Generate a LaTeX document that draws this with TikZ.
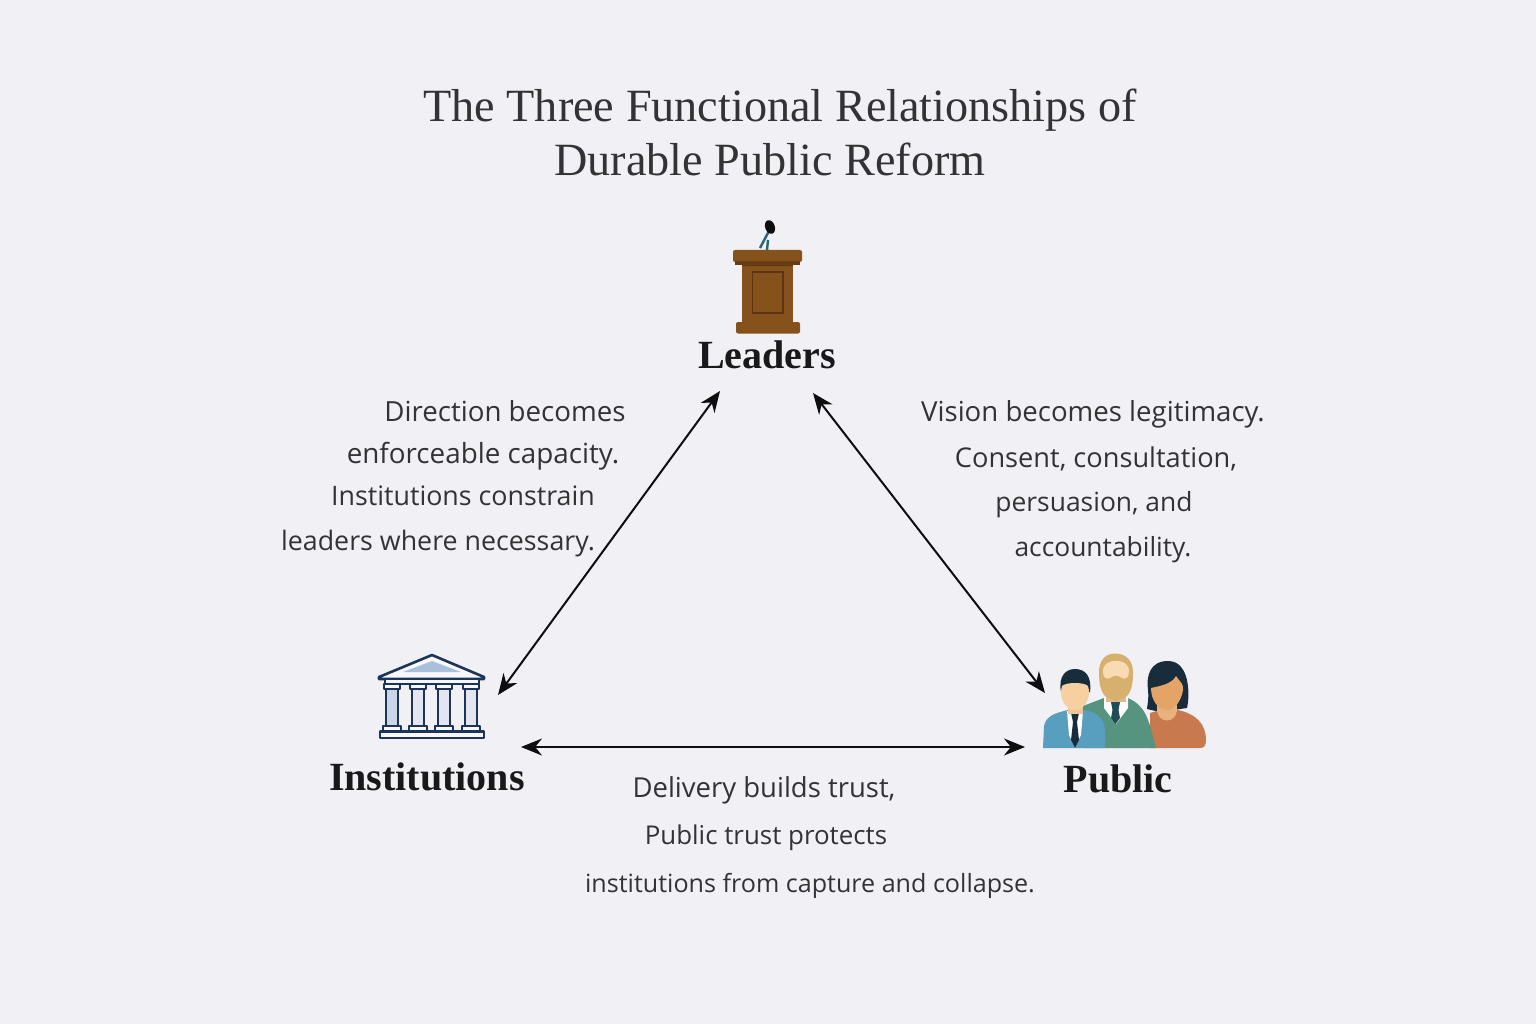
\documentclass[tikz,border=0pt]{standalone}
\usepackage{fontspec}
\setmainfont{Liberation Serif}
\newfontfamily\bodyfont{Open Sans}
\usepackage{xcolor}
\definecolor{paper}{RGB}{241,240,245}
\definecolor{ink}{RGB}{51,51,54}
\definecolor{coal}{RGB}{14,14,16}
\definecolor{navy}{RGB}{28,52,88}
\definecolor{ice}{RGB}{170,192,218}
\definecolor{wood}{RGB}{134,82,28}
\definecolor{wooddk}{RGB}{92,54,20}
\definecolor{teal}{RGB}{42,100,116}
\definecolor{suit}{RGB}{88,158,190}
\definecolor{sweater}{RGB}{86,148,128}
\definecolor{rust}{RGB}{200,122,78}
\definecolor{skin}{RGB}{246,208,160}
\definecolor{skintan}{RGB}{228,164,104}
\definecolor{beard}{RGB}{214,176,108}
\definecolor{hairdk}{RGB}{24,44,60}
\usepackage{tikz}
\usetikzlibrary{arrows.meta,positioning,calc}
\tikzset{
  %% Text
  titleline/.style={anchor=base, font=\fontsize{46.2}{50}\selectfont, text=ink, inner sep=0pt},
  rolelabel/.style={anchor=base, font=\fontsize{40}{44}\selectfont\bfseries, text=coal!70!ink, inner sep=0pt},
  noteline/.style={anchor=base, font=\bodyfont\fontsize{#1}{30}\selectfont, text=ink, inner sep=0pt},
  %% Connectors
  biarrow/.style={draw=coal, line width=2pt, {Stealth[length=21pt,width=17pt]}-{Stealth[length=21pt,width=17pt]}},
  %% Icons
  slab/.style={fill=wood, rounded corners=2pt},
  temple/.style={draw=navy, line width=2.6pt, fill=paper!50!white, line join=round},
}

\begin{document}
\begin{tikzpicture}[x=1pt,y=-1pt]
\useasboundingbox[fill=paper] (0,0) rectangle (1536,1024);

%% Title
\node[titleline] (title1) at (780,122) {The Three Functional Relationships of};
\node[titleline] (title2) at (770,176) {Durable Public Reform};

%% Vertex labels
\node[rolelabel] (leaders) at (767,368) {Leaders};
\node[rolelabel] (institutions) at (427,790) {Institutions};
\node[rolelabel] (public) at (1118,792) {Public};

%% Podium
\fill[wood] (742,262) rectangle (793,324);
\fill[wooddk] (742,262) rectangle (793,266);
\draw[wooddk, line width=1.4pt] (752.5,272) rectangle (783,313);
\fill[slab] (733,250) rectangle (802,262);
\fill[wooddk!70!wood] (735,261) rectangle (800,265);
\fill[slab] (736,322) rectangle (800,333.5);
\draw[teal, line width=2.4pt] (769,231) -- (760,248);
\draw[teal, line width=2.4pt] (768,240) -- (767,250);
\fill[coal, rotate around={20:(770,227)}] (770,227) ellipse (4.8pt and 7pt);

%% Temple
\draw[temple] (432,655) -- (484,677) -- (484,679) -- (379,679) -- (379,677) -- cycle;
\fill[ice] (432,661) -- (461,672) -- (403,672) -- cycle;
\draw[temple] (385,679) rectangle (479,684);
\foreach \colx/\shade in {392/55,418/20,444/20,471/20}{
  \draw[temple, fill=ice!\shade!paper] (\colx-6,689) rectangle (\colx+6,726);
  \draw[temple] (\colx-8,684) rectangle (\colx+8,689);
  \draw[temple] (\colx-9,726) rectangle (\colx+9,731);
}
\draw[temple] (380,731.5) rectangle (484,738);

%% Woman
\fill[hairdk] (1168,661) .. controls (1150,661) and (1146,676) .. (1148,690)
  .. controls (1149,700) and (1147,706) .. (1147,709) -- (1160,712) -- (1187,708)
  .. controls (1190,695) and (1190,661) .. (1168,661) -- cycle;
\fill[rust] (1150,748) -- (1150,713) -- (1160,710) -- (1178,710)
  .. controls (1196,714) and (1206,724) .. (1206,740)
  .. controls (1206,746) and (1204,748) .. (1200,748) -- cycle;
\fill[skintan!85!white] (1157,700) rectangle (1177,712);
\fill[skintan!85!white] (1157,710) .. controls (1158,724) and (1176,724) .. (1177,710) -- cycle;
\fill[skintan] (1151,688) .. controls (1160,686) and (1172,684) .. (1176,676)
  .. controls (1180,682) and (1184,684) .. (1183,690)
  .. controls (1181,702) and (1174,710) .. (1167,710)
  .. controls (1158,710) and (1151,700) .. (1151,688) -- cycle;

%% Bearded man
\fill[sweater] (1083,748) -- (1083,706) -- (1104,698) -- (1128,698)
  .. controls (1145,706) and (1148,716) .. (1156,748) -- cycle;
\fill[white] (1104,697) -- (1128,697) -- (1128,708) -- (1116,724) -- (1104,708) -- cycle;
\fill[teal!75!black] (1111,702) -- (1120,702) -- (1118.5,710) -- (1120,718) -- (1115.5,724) -- (1111,718) -- (1112.5,710) -- cycle;
\fill[skin!90!black] (1106,690) rectangle (1126,702);
\fill[beard] (1115,653.5) .. controls (1104,653.5) and (1099,662) .. (1099,672)
  .. controls (1099,682) and (1100,694) .. (1108,698) -- (1116,701) -- (1124,698)
  .. controls (1132,694) and (1133,682) .. (1133,672)
  .. controls (1133,662) and (1127,653.5) .. (1115,653.5) -- cycle;
\fill[skin!80!white] (1103,672) .. controls (1103,664) and (1108,661) .. (1116,661)
  .. controls (1124,661) and (1129,664) .. (1129,672)
  .. controls (1129,678) and (1125,680) .. (1122,678)
  .. controls (1118,675) and (1114,675) .. (1110,678)
  .. controls (1107,680) and (1103,678) .. (1103,672) -- cycle;

%% Short haired man
\fill[suit] (1043,748) -- (1044,726) .. controls (1046,716) and (1055,713) .. (1068,710) -- (1084,710)
  .. controls (1094,712) and (1104,716) .. (1105,730) -- (1105,748) -- cycle;
\fill[white] (1067,711) -- (1083,711) -- (1081,735) -- (1075,748) -- (1069,735) -- cycle;
\fill[hairdk] (1071,713) -- (1079,713) -- (1077,722) -- (1079,740) -- (1075,748) -- (1071,740) -- (1073,722) -- cycle;
\fill[skin!95!black] (1068,700) rectangle (1083,714);
\fill[hairdk] (1061,692) .. controls (1058,676) and (1066,669) .. (1075,669)
  .. controls (1085,669) and (1092,676) .. (1090,692) -- cycle;
\fill[skin] (1062,686) .. controls (1066,682) and (1084,682) .. (1088,686)
  .. controls (1092,698) and (1084,710) .. (1075,710)
  .. controls (1066,710) and (1058,698) .. (1062,686) -- cycle;

%% Connector ends
\coordinate (leadersW) at ($(leaders.base)+(-47,23)$);
\coordinate (leadersE) at ($(leaders.base)+(46,25)$);
\coordinate (instN) at ($(institutions.base)+(71,-95)$);
\coordinate (instE) at ($(institutions.base)+(94,-43)$);
\coordinate (publicN) at ($(public.base)+(-73,-99)$);
\coordinate (publicW) at ($(public.base)+(-93,-45)$);

\draw[biarrow] (leadersW) -- (instN);
\draw[biarrow] (leadersE) -- (publicN);
\draw[biarrow] (instE) -- (publicW);

%% Notes, left side
\node[noteline=27.7] (dirA) at (505,421) {Direction becomes};
\node[noteline=27.8] (dirB) at (483,463) {enforceable capacity.};
\node[noteline=26.8] (dirC) at (463,505) {Institutions constrain};
\node[noteline=26.8] (dirD) at (438,550) {leaders where necessary.};

%% Notes, right side
\node[noteline=27.6] (visA) at (1093,421) {Vision becomes legitimacy.};
\node[noteline=27.2] (visB) at (1096,467) {Consent, consultation,};
\node[noteline=26.4] (visC) at (1094,511) {persuasion, and};
\node[noteline=26.4] (visD) at (1103,556) {accountability.};

%% Notes, bottom
\node[noteline=27.5] (delA) at (764,797) {Delivery builds trust,};
\node[noteline=25.9] (delB) at (766,844) {Public trust protects};
\node[noteline=25.1] (delC) at (810,892) {institutions from capture and collapse.};
\end{tikzpicture}
\end{document}
